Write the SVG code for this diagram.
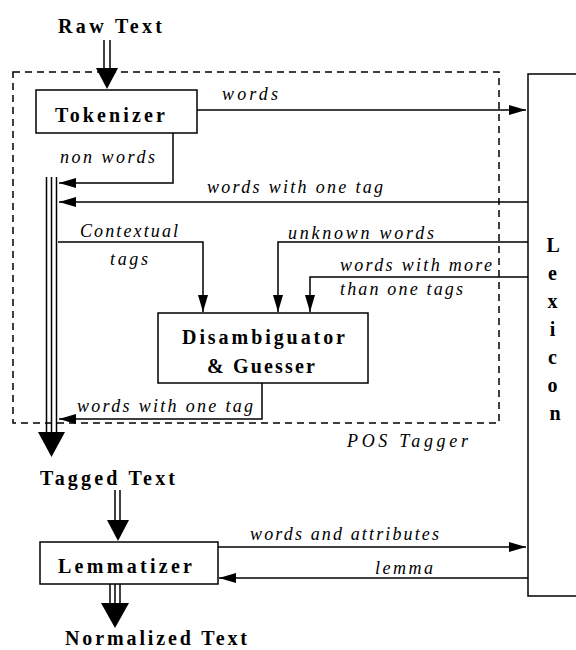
<svg xmlns="http://www.w3.org/2000/svg" width="576" height="650" viewBox="0 0 576 650">
<style>
.box{fill:#fff;stroke:#000;stroke-width:1.5}
.ln{fill:none;stroke:#000;stroke-width:1.5}
.lbl{font-family:"Liberation Serif",serif;font-style:italic;font-size:18px;fill:#000}
.bold{font-family:"Liberation Serif",serif;font-weight:bold;font-size:20px;fill:#000}
.hd{fill:#000}
</style>
<defs>
<marker id="arr" markerUnits="userSpaceOnUse" markerWidth="18" markerHeight="12" viewBox="0 0 18 12" refX="17" refY="6" orient="auto">
<path d="M0,1 L17,6 L0,11 z" fill="#000"/>
</marker>
</defs>
<rect width="576" height="650" fill="#fff"/>

<g id="pos-tagger">
<rect x="13" y="72" width="486" height="351" fill="none" stroke="#000" stroke-width="1.5" stroke-dasharray="7,5"/>
<text class="lbl" x="347" y="447" textLength="121" lengthAdjust="spacing">POS Tagger</text>
</g>

<g id="raw-text">
<text class="bold" x="58" y="33" textLength="104" lengthAdjust="spacing">Raw Text</text>
</g>

<g id="tokenizer">
<rect class="box" x="36" y="90" width="161" height="43"/>
<text class="bold" x="55" y="122" textLength="110" lengthAdjust="spacing">Tokenizer</text>
</g>

<g id="lexicon">
<rect class="box" x="528" y="74" width="60" height="522"/>
<text class="bold" text-anchor="middle">
<tspan x="555" y="252">L</tspan>
<tspan x="555" y="280">e</tspan>
<tspan x="555" y="308">x</tspan>
<tspan x="555" y="336">i</tspan>
<tspan x="555" y="364">c</tspan>
<tspan x="555" y="392">o</tspan>
<tspan x="555" y="420">n</tspan>
</text>
</g>

<g id="disambiguator">
<rect class="box" x="158" y="313" width="210" height="70"/>
<text class="bold" x="182" y="344" textLength="163" lengthAdjust="spacing">Disambiguator</text>
<text class="bold" x="207" y="373" textLength="108" lengthAdjust="spacing">&amp; Guesser</text>
</g>

<g id="tagged-text">
<text class="bold" x="40" y="485" textLength="135" lengthAdjust="spacing">Tagged Text</text>
</g>

<g id="lemmatizer">
<rect class="box" x="40" y="542" width="178" height="42"/>
<text class="bold" x="58" y="573" textLength="134" lengthAdjust="spacing">Lemmatizer</text>
</g>

<g id="normalized-text">
<text class="bold" x="65" y="645" textLength="182" lengthAdjust="spacing">Normalized Text</text>
</g>

<g id="connectors">
<line class="ln" x1="104" y1="40" x2="104" y2="70"/>
<line class="ln" x1="110" y1="40" x2="110" y2="70"/>
<polygon class="hd" points="96,68 118,68 107,89"/>

<line class="ln" x1="197" y1="110" x2="526" y2="110" marker-end="url(#arr)"/>
<text class="lbl" x="222" y="100" textLength="56" lengthAdjust="spacing">words</text>

<polyline class="ln" points="173,133 173,183 59,183" marker-end="url(#arr)"/>
<text class="lbl" x="60" y="163" textLength="95" lengthAdjust="spacing">non words</text>

<line class="ln" x1="528" y1="202" x2="59" y2="202" marker-end="url(#arr)"/>
<text class="lbl" x="207" y="193" textLength="176" lengthAdjust="spacing">words with one tag</text>

<line class="ln" x1="46.5" y1="177" x2="46.5" y2="434"/>
<line class="ln" x1="51.5" y1="177" x2="51.5" y2="434"/>
<line class="ln" x1="56.5" y1="177" x2="56.5" y2="434"/>
<polygon class="hd" points="38,432 65,432 51.5,457"/>

<polyline class="ln" points="58,242 203,242 203,312" marker-end="url(#arr)"/>
<text class="lbl" x="80" y="237" textLength="98" lengthAdjust="spacing">Contextual</text>
<text class="lbl" x="110" y="265" textLength="38" lengthAdjust="spacing">tags</text>

<polyline class="ln" points="528,242 278,242 278,312" marker-end="url(#arr)"/>
<text class="lbl" x="288" y="239" textLength="146" lengthAdjust="spacing">unknown words</text>

<polyline class="ln" points="528,277 310,277 310,312" marker-end="url(#arr)"/>
<text class="lbl" x="340" y="271" textLength="152" lengthAdjust="spacing">words with more</text>
<text class="lbl" x="340" y="295" textLength="123" lengthAdjust="spacing">than one tags</text>

<polyline class="ln" points="262,383 262,419 59,419" marker-end="url(#arr)"/>
<text class="lbl" x="77" y="412" textLength="176" lengthAdjust="spacing">words with one tag</text>

<line class="ln" x1="115" y1="490" x2="115" y2="522"/>
<line class="ln" x1="120" y1="490" x2="120" y2="522"/>
<polygon class="hd" points="107,520 129,520 118,541"/>

<line class="ln" x1="218" y1="547" x2="526" y2="547" marker-end="url(#arr)"/>
<text class="lbl" x="250" y="540" textLength="189" lengthAdjust="spacing">words and attributes</text>

<line class="ln" x1="528" y1="578" x2="219" y2="578" marker-end="url(#arr)"/>
<text class="lbl" x="375" y="574" textLength="58" lengthAdjust="spacing">lemma</text>

<line class="ln" x1="110" y1="584" x2="110" y2="605"/>
<line class="ln" x1="115" y1="584" x2="115" y2="605"/>
<line class="ln" x1="120" y1="584" x2="120" y2="605"/>
<polygon class="hd" points="101,603 129,603 115,628"/>
</g>
</svg>
